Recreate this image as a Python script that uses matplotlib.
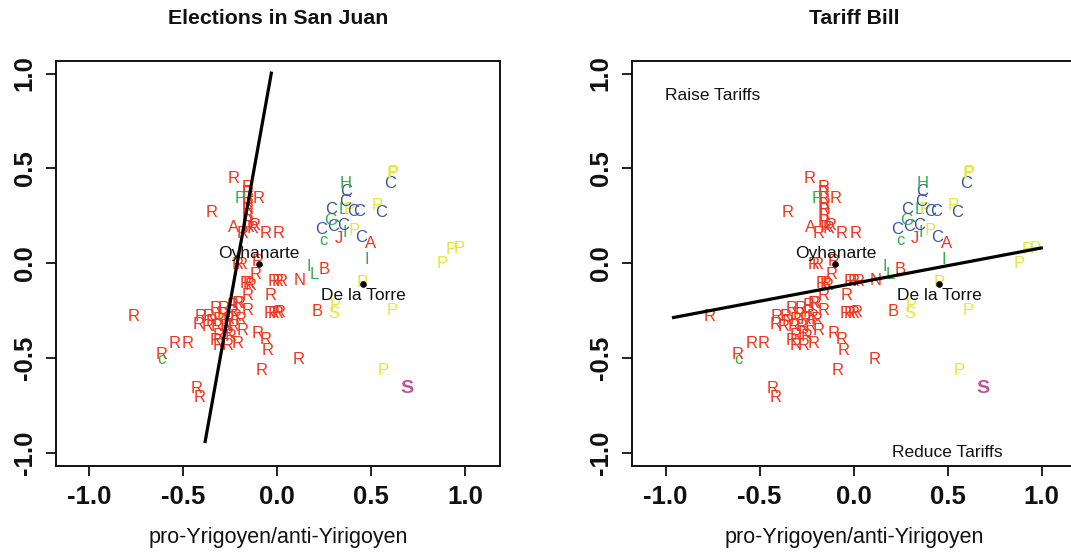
import matplotlib
matplotlib.use("Agg")
import matplotlib.pyplot as plt

plt.rcParams['font.family'] = ['Liberation Sans', 'DejaVu Sans']

# ---------------- data ----------------
titles = ["Elections in San Juan", "Tariff Bill"]
xlabel_text = "pro-Yrigoyen/anti-Yirigoyen"
ticks = [-1.0, -0.5, 0.0, 0.5, 1.0]
tick_labels = ["-1.0", "-0.5", "0.0", "0.5", "1.0"]

# party letter, colour group, x, y  (ideal points of legislators)
letters = [
    # hidden yellow P inside the radical cluster
    "P",
    # upper radical group
    "R", "R", "R", "R", "R", "R", "R", "R", "R", "R", "P", "R", "R", "A", "R", "R", "R", "R",
    # around Oyhanarte
    "R", "R", "R", "R",
    # middle radical group
    "R", "R", "R", "R", "R", "R", "R", "R", "R", "R", "R", "R", "R", "R", "N",
    # dense cluster
    "R", "R", "R", "R", "R", "R", "R", "R", "R", "R", "R", "R", "R", "R", "R", "R",
    "R", "R", "R", "R", "R", "R", "R", "R", "R", "R",
    # lower / left outliers
    "R", "R", "R", "R", "R", "R", "R", "R", "R", "c", "R", "R",
    # right-hand side groups
    "I", "L", "B", "B", "P", "S", "P", "P", "P", "S", "P", "P", "P",
    "I", "A", "C", "P", "I", "J", "c", "C", "C", "G", "C", "C", "L", "P", "C", "C",
    "C", "C", "H", "C", "P", "P", "P", "C",
]
groups = [
    "Y",
    "R", "R", "R", "R", "R", "R", "R", "R", "R", "R", "G", "R", "R", "R", "R", "R", "R", "R",
    "R", "R", "R", "R",
    "R", "R", "R", "R", "R", "R", "R", "R", "R", "R", "R", "R", "R", "R", "R",
    "R", "R", "R", "R", "R", "R", "R", "R", "R", "R", "R", "R", "R", "R", "R", "R",
    "R", "R", "R", "R", "R", "R", "R", "R", "R", "R",
    "R", "R", "R", "R", "R", "R", "R", "R", "R", "G", "R", "R",
    "G", "G", "R", "R", "Y", "Y", "Y", "Y", "Y", "M", "Y", "Y", "Y",
    "G", "R", "B", "Y", "G", "R", "G", "B", "B", "G", "B", "B", "G", "Y", "B", "B",
    "B", "B", "G", "B", "Y", "Y", "Y", "B",
]
xs = [
    -0.284,
    -0.234, -0.16, -0.16, -0.16, -0.155, -0.16, -0.155, -0.16, -0.15, -0.12, -0.195, -0.097,
    -0.35, -0.23, -0.186, -0.133, -0.062, 0.009,
    -0.21, -0.19, -0.106, -0.115,
    -0.17, -0.15, -0.14, -0.16, -0.02, 0.0, 0.025, -0.035, -0.2, -0.16, -0.04, -0.02, 0.0,
    0.015, 0.118,
    -0.328, -0.284, -0.24, -0.21, -0.407, -0.363, -0.31, -0.257, -0.195, -0.417, -0.372,
    -0.32, -0.275, -0.23, -0.186, -0.31, -0.266, -0.328, -0.31, -0.266, -0.213, -0.24,
    -0.29, -0.35, -0.22, -0.25,
    -0.106, -0.062, -0.053, -0.083, 0.112, -0.766, -0.544, -0.479, -0.615, -0.615, -0.43,
    -0.415,
    0.167, 0.197, 0.248, 0.212, 0.308, 0.30, 0.453, 0.612, 0.564, 0.688, 0.925, 0.966, 0.879,
    0.478, 0.497, 0.444, 0.409, 0.36, 0.328, 0.247, 0.233, 0.295, 0.282, 0.348, 0.287, 0.35,
    0.381, 0.405, 0.438,
    0.36, 0.365, 0.365, 0.599, 0.612, 0.617, 0.529, 0.553,
]
ys = [
    -0.274,
    0.447, 0.40, 0.37, 0.34, 0.31, 0.28, 0.25, 0.22, 0.19, 0.20, 0.341, 0.341,
    0.268, 0.19, 0.157, 0.183, 0.157, 0.157,
    -0.01, -0.01, 0.008, -0.063,
    -0.107, -0.107, -0.12, -0.169, -0.099, -0.099, -0.099, -0.169, -0.213, -0.248, -0.265,
    -0.265, -0.265, -0.26, -0.094,
    -0.239, -0.239, -0.222, -0.215, -0.283, -0.283, -0.30, -0.30, -0.30, -0.327, -0.336,
    -0.336, -0.336, -0.336, -0.354, -0.38, -0.37, -0.41, -0.433, -0.433, -0.425, -0.26,
    -0.27, -0.31, -0.28, -0.39,
    -0.371, -0.406, -0.459, -0.565, -0.51, -0.283, -0.424, -0.424, -0.485, -0.51, -0.661,
    -0.709,
    -0.02, -0.06, -0.032, -0.257, -0.226, -0.268, -0.103, -0.249, -0.565, -0.661, 0.072,
    0.077, -0.002,
    0.02, 0.104, 0.134, 0.17, 0.16, 0.13, 0.121, 0.176, 0.195, 0.222, 0.2, 0.28, 0.28,
    0.28, 0.27, 0.27,
    0.323, 0.376, 0.42, 0.42, 0.473, 0.478, 0.306, 0.269,
]

# named legislators (black dots with labels)
names = ["Oyhanarte", "De la Torre"]
name_x = [-0.097, 0.457]
name_y = [-0.005, -0.113]
name_above = [True, False]

# cutting lines for each vote
line_x = [[-0.385, -0.03], [-0.966, 1.007]]
line_y = [[-0.95, 1.01], [-0.289, 0.081]]

# annotations (right panel)
notes = ["Raise Tariffs", "Reduce Tariffs"]
note_x = [-0.75, 0.50]
note_y = [0.885, -1.0]

palette = {"R": "#F2351E", "G": "#36AE48", "B": "#3B55A6",
           "Y": "#E6E63A", "M": "#C4509E"}

# ---------------- figure ----------------
W, H = 1071, 555
fig = plt.figure(figsize=(W / 100, H / 100), dpi=100)

ax_w, ax_h = 444 / W, 405 / H
ax_b = (H - 466) / H
lefts = [56 / W, 632.3 / W]

for k in range(2):
    ax = fig.add_axes([lefts[k], ax_b, ax_w, ax_h])
    ax.set_xlim(-1.177, 1.185)
    ax.set_ylim(-1.071, 1.066)

    for t, g, x, y in zip(letters, groups, xs, ys):
        magenta = g == "M"
        ax.text(x, y, t, color=palette[g], fontsize=14 if magenta else 12,
                ha="center", va="center",
                fontweight="bold" if magenta else "normal", zorder=2)

    ax.plot(line_x[k], line_y[k], color="black", lw=2.3, solid_capstyle="butt", zorder=3)

    ax.scatter(name_x, name_y, s=14, color="black", zorder=4)
    for nm, x, y, above in zip(names, name_x, name_y, name_above):
        if above:
            ax.annotate(nm, (x, y), xytext=(0, 4), textcoords="offset points",
                        ha="center", va="baseline", fontsize=12.5, color="#111111", zorder=5)
        else:
            ax.annotate(nm, (x, y), xytext=(0, -2.5), textcoords="offset points",
                        ha="center", va="top", fontsize=12.5, color="#111111", zorder=5)

    if k == 1:
        for nt, x, y in zip(notes, note_x, note_y):
            ax.text(x, y, nt, ha="center", va="center", fontsize=12.5, color="#111111")

    ax.set_xticks(ticks)
    ax.set_xticklabels(tick_labels, fontsize=18.5, fontweight="bold")
    ax.set_yticks(ticks)
    ax.set_yticklabels(tick_labels, fontsize=18.5, fontweight="bold", rotation=90, va="center")
    ax.tick_params(axis="both", length=7, width=1.3, color="#111111", labelcolor="#111111")
    ax.tick_params(axis="x", pad=7)
    ax.tick_params(axis="y", pad=7)
    for sp in ax.spines.values():
        sp.set_linewidth(1.4)
        sp.set_color("#111111")

    cx = lefts[k] + ax_w / 2
    fig.text(cx, 1 - 18 / H, titles[k], ha="center", va="center",
             fontsize=15.3, fontweight="bold", color="#111111")
    fig.text(cx, 18 / H, xlabel_text, ha="center", va="center",
             fontsize=15.5, color="#111111")

fig.savefig("out.png", dpi=100)
